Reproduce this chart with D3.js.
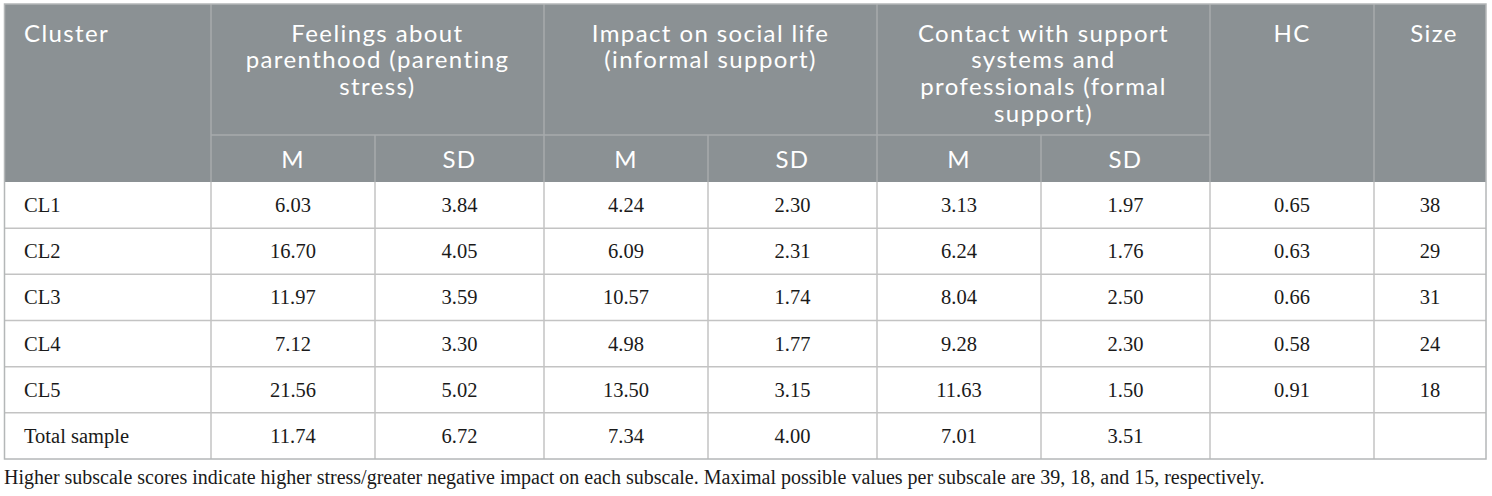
<!DOCTYPE html>
<html>
<head>
<meta charset="utf-8">
<script src="https://cdn.jsdelivr.net/npm/d3@7"></script>
<style>
  html, body { margin: 0; padding: 0; background: #fff; }
  svg { display: block; }
</style>
</head>
<body>
<svg id="chart" width="1492" height="496"></svg>
<script>
'use strict'

// ------------------------------------------------------------ DATA ---
const clusters = ['CL1', 'CL2', 'CL3', 'CL4', 'CL5', 'Total sample']
const feelingsM = [6.03, 16.70, 11.97, 7.12, 21.56, 11.74]
const feelingsSD = [3.84, 4.05, 3.59, 3.30, 5.02, 6.72]
const socialM = [4.24, 6.09, 10.57, 4.98, 13.50, 7.34]
const socialSD = [2.30, 2.31, 1.74, 1.77, 3.15, 4.00]
const contactM = [3.13, 6.24, 8.04, 9.28, 11.63, 7.01]
const contactSD = [1.97, 1.76, 2.50, 2.30, 1.50, 3.51]
const hcValues = [0.65, 0.63, 0.66, 0.58, 0.91, null]
const sizeValues = [38, 29, 31, 24, 18, null]

const groupHeaders = [
  ['Feelings about', 'parenthood (parenting', 'stress)'],
  ['Impact on social life', '(informal support)'],
  ['Contact with support', 'systems and', 'professionals (formal', 'support)']
]
const subHeaders = ['M', 'SD']
const footnote = 'Higher subscale scores indicate higher stress/greater negative impact on each subscale. Maximal possible values per subscale are 39, 18, and 15, respectively.'

// ------------------------------------------------------ POSITIONING ---
let svg = d3.select('#chart')

let colKeys = ['cluster', 'fM', 'fSD', 'sM', 'sSD', 'cM', 'cSD', 'hc', 'size']
let colEdges = [4.5, 211, 375, 544, 708, 877, 1041, 1210, 1374, 1486]

let xLeft = d3.scaleOrdinal().domain(colKeys).range(colEdges.slice(0, -1))
let xRight = d3.scaleOrdinal().domain(colKeys).range(colEdges.slice(1))
let xMid = k => (xLeft(k) + xRight(k)) / 2

let headTop = 4
let subTop = 135
let headBottom = 182
let tableBottom = 459

let yRow = d3.scaleBand().domain(clusters).range([headBottom, tableBottom])

let headFill = '#8b9194'
let headLine = '#a7abad'
let bodyLine = '#c3c3c3'
let sansFont = 'Lato, "Open Sans", sans-serif'
let serifFont = '"Liberation Serif", "DejaVu Serif", serif'

let fmt = d3.format('.2f')

// ------------------------------------------------------------ HEADER ---
svg.append('rect')
  .attr('x', xLeft('cluster')).attr('y', headTop)
  .attr('width', xRight('size') - xLeft('cluster'))
  .attr('height', headBottom - headTop)
  .attr('fill', headFill)

let headG = svg.append('g')
  .attr('font-family', sansFont)
  .attr('fill', '#fff')
  .attr('font-size', 24)
  .attr('letter-spacing', 1.4)

// vertical lines in header
let headVert = [
  {k: 'fM', y0: headTop, y1: headBottom},
  {k: 'fSD', y0: subTop, y1: headBottom},
  {k: 'sM', y0: headTop, y1: headBottom},
  {k: 'sSD', y0: subTop, y1: headBottom},
  {k: 'cM', y0: headTop, y1: headBottom},
  {k: 'cSD', y0: subTop, y1: headBottom},
  {k: 'hc', y0: headTop, y1: headBottom},
  {k: 'size', y0: headTop, y1: headBottom}
]
svg.append('g').selectAll('line').data(headVert).enter()
  .append('line')
    .attr('x1', d => xLeft(d.k)).attr('x2', d => xLeft(d.k))
    .attr('y1', d => d.y0).attr('y2', d => d.y1)
    .attr('stroke', headLine).attr('stroke-width', 1.5)

svg.append('line')
  .attr('x1', xLeft('fM')).attr('x2', xLeft('hc'))
  .attr('y1', subTop).attr('y2', subTop)
  .attr('stroke', headLine).attr('stroke-width', 1.5)

let lineH = 26.7
let firstLine = 32

headG.append('text')
  .attr('x', 24).attr('y', firstLine)
  .attr('dominant-baseline', 'central')
  .text('Cluster')

let groupCols = [['fM', 'fSD'], ['sM', 'sSD'], ['cM', 'cSD']]
groupHeaders.forEach((lines, gi) => {
  let cx = (xLeft(groupCols[gi][0]) + xRight(groupCols[gi][1])) / 2
  headG.selectAll(null).data(lines).enter()
    .append('text')
      .attr('x', cx)
      .attr('y', (d, i) => firstLine + i * lineH)
      .attr('text-anchor', 'middle')
      .attr('dominant-baseline', 'central')
      .text(d => d)
  groupCols[gi].forEach((k, si) => {
    headG.append('text')
      .attr('x', xMid(k)).attr('y', (subTop + headBottom) / 2)
      .attr('text-anchor', 'middle')
      .attr('dominant-baseline', 'central')
      .text(subHeaders[si])
  })
})

;[['hc', 'HC'], ['size', 'Size']].forEach(([k, label]) => {
  headG.append('text')
    .attr('x', xMid(k) + (k == 'size' ? 4 : 0)).attr('y', firstLine)
    .attr('text-anchor', 'middle')
    .attr('dominant-baseline', 'central')
    .text(label)
})

// -------------------------------------------------------------- BODY ---
let rows = clusters.map((c, i) => ({
  cluster: c,
  fM: fmt(feelingsM[i]), fSD: fmt(feelingsSD[i]),
  sM: fmt(socialM[i]), sSD: fmt(socialSD[i]),
  cM: fmt(contactM[i]), cSD: fmt(contactSD[i]),
  hc: hcValues[i] == null ? '' : fmt(hcValues[i]),
  size: sizeValues[i] == null ? '' : String(sizeValues[i])
}))

let gridG = svg.append('g')
  .attr('stroke', bodyLine).attr('stroke-width', 1.5)

// horizontal row lines
gridG.selectAll('line.h').data(clusters.slice(1)).enter()
  .append('line')
    .attr('class', 'h')
    .attr('x1', xLeft('cluster')).attr('x2', xRight('size'))
    .attr('y1', d => yRow(d)).attr('y2', d => yRow(d))

// vertical column lines
gridG.selectAll('line.v').data(colKeys.slice(1)).enter()
  .append('line')
    .attr('class', 'v')
    .attr('x1', d => xLeft(d)).attr('x2', d => xLeft(d))
    .attr('y1', headBottom).attr('y2', tableBottom)

// outer border
svg.append('rect')
  .attr('x', xLeft('cluster')).attr('y', headTop)
  .attr('width', xRight('size') - xLeft('cluster'))
  .attr('height', tableBottom - headTop)
  .attr('fill', 'none')
  .attr('stroke', '#b4b7b8').attr('stroke-width', 1.5)

let bodyG = svg.append('g')
  .attr('font-family', serifFont)
  .attr('font-size', 20.5)
  .attr('fill', '#1a1a1a')

let rowG = bodyG.selectAll('g.row').data(rows).enter()
  .append('g')
    .attr('class', 'row')
    .attr('transform', d => 'translate(0,' + (yRow(d.cluster) + yRow.bandwidth() / 2) + ')')

rowG.append('text')
  .attr('x', 24)
  .attr('dominant-baseline', 'central')
  .text(d => d.cluster)

rowG.selectAll('text.val')
  .data(d => colKeys.slice(1).map(k => ({k: k, v: d[k]})))
  .enter()
  .append('text')
    .attr('class', 'val')
    .attr('x', d => xMid(d.k))
    .attr('text-anchor', 'middle')
    .attr('dominant-baseline', 'central')
    .text(d => d.v)

// ---------------------------------------------------------- FOOTNOTE ---
svg.append('text')
  .attr('x', 4).attr('y', 477)
  .attr('font-family', serifFont)
  .attr('font-size', 20)
  .attr('fill', '#1a1a1a')
  .attr('dominant-baseline', 'central')
  .text(footnote)
</script>
</body>
</html>
